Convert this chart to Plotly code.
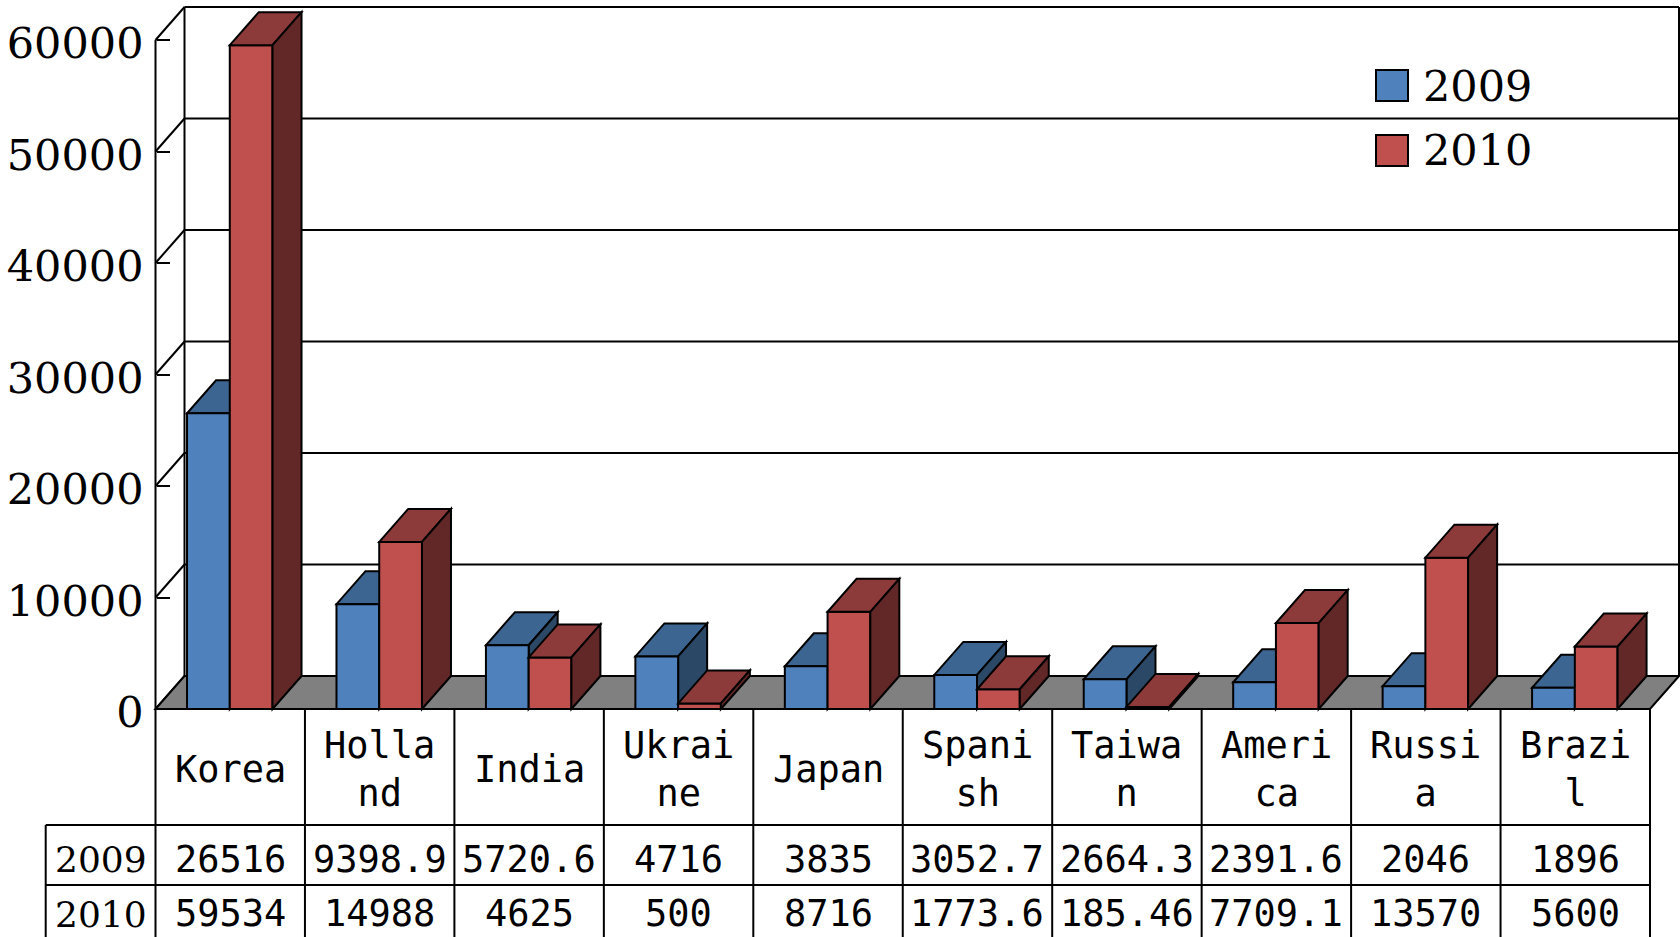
import plotly.graph_objects as go

# ---------------- data ----------------
categories = ["Korea", "Holland", "India", "Ukraine", "Japan",
              "Spanish", "Taiwan", "America", "Russia", "Brazil"]
series_names = ["2009", "2010"]
values_2009 = [26516, 9398.9, 5720.6, 4716, 3835, 3052.7, 2664.3, 2391.6, 2046, 1896]
values_2010 = [59534, 14988, 4625, 500, 8716, 1773.6, 185.46, 7709.1, 13570, 5600]
tick_values = [0, 10000, 20000, 30000, 40000, 50000, 60000]
tick_labels = ["0", "10000", "20000", "30000", "40000", "50000", "60000"]

# ---------------- geometry / style ----------------
W_PX, H_PX = 1680, 937
X0_PX, UX_PX = 155.5, 149.45          # px of category 0 edge, px per category
Y0_PX, UY_PX = 709.0, 111.5           # px of value 0, px per 10000
x_range = [-X0_PX / UX_PX, (W_PX - X0_PX) / UX_PX]
y_range = [-(H_PX - Y0_PX) / UY_PX * 10000, Y0_PX / UY_PX * 10000]
DX = 29.0 / UX_PX                     # depth offset in category units
DY = 33.0 / UY_PX * 10000             # depth offset in value units
BAR_W = 0.286
OFF = [0.211, 0.497]
YMAX = tick_values[-1]
N = len(categories)

HEAD_BOTTOM = -(825 - Y0_PX) / UY_PX * 10000
ROW1_BOTTOM = -(885 - Y0_PX) / UY_PX * 10000
TABLE_BOTTOM = y_range[0] - 3000
LABEL_LEFT = (45.7 - X0_PX) / UX_PX

front_cols = ["#4F81BD", "#C0504D"]
top_cols = ["#3D6591", "#8D3B3A"]
side_cols = ["#2B4867", "#622828"]
LW = 2
BLACK = "black"

shapes = []


def line(x0, y0, x1, y1, layer="below"):
    shapes.append(dict(type="line", xref="x", yref="y", x0=x0, y0=y0, x1=x1, y1=y1,
                       line=dict(color=BLACK, width=LW), layer=layer))


def poly(pts, fill, layer):
    path = "M " + " L ".join(f"{x},{y}" for x, y in pts) + " Z"
    shapes.append(dict(type="path", xref="x", yref="y", path=path, fillcolor=fill,
                       line=dict(color=BLACK, width=LW), layer=layer))


# back wall gridlines + frame
for v in tick_values:
    line(DX, v + DY, N + DX, v + DY)
    line(0, v, DX, v + DY)           # side wall diagonals
line(DX, DY, DX, YMAX + DY)
line(N + DX, DY, N + DX, YMAX + DY)
# floor
poly([(0, 0), (N, 0), (N + DX, DY), (DX, DY)], "#808080", "below")

# legend background (white, interrupts gridline)
shapes.append(dict(type="rect", xref="paper", yref="paper",
                   x0=1358 / W_PX, x1=1544 / W_PX, y0=1 - 185 / H_PX, y1=1 - 50 / H_PX,
                   fillcolor="white", line=dict(width=0), layer="below"))

# 3D faces of bars: 2009 below traces, 2010 above traces (occlusion order)
for s, vals in enumerate([values_2009, values_2010]):
    layer = "below" if s == 0 else "above"
    for i, v in enumerate(vals):
        a = i + OFF[s]
        b = a + BAR_W
        poly([(a, v), (b, v), (b + DX, v + DY), (a + DX, v + DY)], top_cols[s], layer)
        poly([(b, 0), (b + DX, DY), (b + DX, v + DY), (b, v)], side_cols[s], layer)

# table grid
line(0, TABLE_BOTTOM, 0, YMAX, layer="above")
for i in range(1, N + 1):
    line(i, TABLE_BOTTOM, i, 0, layer="above")
line(LABEL_LEFT, HEAD_BOTTOM, N, HEAD_BOTTOM, layer="above")
line(LABEL_LEFT, ROW1_BOTTOM, N, ROW1_BOTTOM, layer="above")
line(LABEL_LEFT, TABLE_BOTTOM, LABEL_LEFT, HEAD_BOTTOM, layer="above")
line(0, 0, N, 0, layer="above")

fig = go.Figure()
for s, vals in enumerate([values_2009, values_2010]):
    fig.add_trace(go.Bar(
        x=list(range(N)), y=vals, base=0, width=BAR_W, offset=OFF[s],
        name=series_names[s], marker=dict(color=front_cols[s], line=dict(color=BLACK, width=LW)),
        showlegend=False))

annotations = []
mono = dict(family="DejaVu Sans Mono", size=37, color="black")
serif_small = dict(family="DejaVu Serif", size=36, color="black")
serif_big = dict(family="DejaVu Serif", size=43, color="black")


def wrap(name, n=5):
    return "<br>".join(name[k:k + n] for k in range(0, len(name), n))


for i, name in enumerate(categories):
    annotations.append(dict(x=i + 0.5, y=HEAD_BOTTOM / 2, xref="x", yref="y", text=wrap(name),
                            showarrow=False, font=mono, xanchor="center", yanchor="middle",
                            yshift=-2))
rows = [values_2009, values_2010]
row1_center = (HEAD_BOTTOM + ROW1_BOTTOM) / 2
for r, vals in enumerate(rows):
    if r == 0:
        pos = dict(y=row1_center, yanchor="middle", yshift=-4)
    else:
        pos = dict(y=y_range[0], yanchor="bottom", yshift=0)
    annotations.append(dict(x=LABEL_LEFT / 2, xref="x", yref="y",
                            text=series_names[r], showarrow=False, font=serif_small,
                            xanchor="center", **pos))
    for i, v in enumerate(vals):
        annotations.append(dict(x=i + 0.5, xref="x", yref="y",
                                text=f"{v:g}", showarrow=False, font=mono,
                                xanchor="center", **pos))

# legend (manual, large swatches)
leg_y = [85.5, 150.5]
for s in range(2):
    shapes.append(dict(type="rect", xref="paper", yref="paper",
                       x0=1376 / W_PX, x1=1408 / W_PX,
                       y0=1 - (leg_y[s] + 15.5) / H_PX, y1=1 - (leg_y[s] - 15.5) / H_PX,
                       fillcolor=front_cols[s], line=dict(color=BLACK, width=LW), layer="above"))
    annotations.append(dict(x=1421 / W_PX, y=1 - leg_y[s] / H_PX, xref="paper", yref="paper",
                            text=series_names[s], showarrow=False, font=serif_big,
                            xanchor="left", yanchor="middle"))

fig.update_layout(
    width=W_PX, height=H_PX, margin=dict(l=0, r=0, t=0, b=0),
    paper_bgcolor="white", plot_bgcolor="white",
    barmode="overlay", showlegend=False,
    xaxis=dict(range=x_range, visible=False, fixedrange=True),
    yaxis=dict(range=y_range, anchor="free", position=X0_PX / W_PX,
               tickvals=tick_values, ticktext=tick_labels,
               ticks="inside", ticklen=13, tickwidth=2, tickcolor=BLACK,
               showgrid=False, zeroline=False, showline=False,
               tickfont=serif_big, ticklabelstandoff=12, ticklabelshift=3,
               fixedrange=True),
    shapes=shapes, annotations=annotations,
)

fig.write_html("out.html", config={"displayModeBar": False},
               post_script="document.body.style.margin='0';document.body.style.overflow='hidden';")
